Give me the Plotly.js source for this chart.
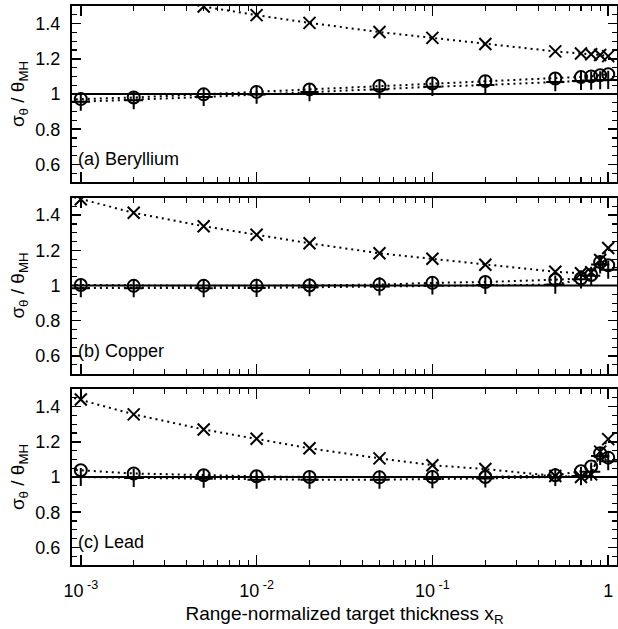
<!DOCTYPE html>
<html>
<head>
<meta charset="utf-8">
<script src="https://cdn.plot.ly/plotly-3.0.1.min.js"></script>
<style>html,body{margin:0;padding:0;background:#fff;}#chart{width:618px;height:629px;}</style>
</head>
<body>
<div id="chart"></div>
<script>
// x positions (range-normalized thickness)
const xR = [0.0005, 0.001, 0.002, 0.005, 0.01, 0.02, 0.05, 0.1, 0.2, 0.5, 0.7, 0.8, 0.9, 1.0];

// (a) Beryllium
const beX    = [1.72, 1.64, 1.56, 1.497, 1.448, 1.404, 1.352, 1.319, 1.284, 1.242, 1.230, 1.226, 1.222, 1.215];
const beO    = [0.955, 0.971, 0.980, 0.998, 1.012, 1.026, 1.045, 1.060, 1.073, 1.088, 1.096, 1.100, 1.107, 1.112];
const bePlus = [0.945, 0.956, 0.965, 0.983, 0.997, 1.011, 1.026, 1.041, 1.051, 1.068, 1.074, 1.076, 1.078, 1.080];

// (b) Copper
const cuX    = [1.57, 1.49, 1.413, 1.337, 1.288, 1.240, 1.183, 1.152, 1.118, 1.078, 1.070, 1.075, 1.145, 1.213];
const cuO    = [1.005, 1.003, 0.998, 0.998, 0.998, 1.000, 1.005, 1.015, 1.020, 1.033, 1.040, 1.060, 1.133, 1.115];
const cuPlus = [0.985, 0.985, 0.985, 0.985, 0.986, 0.990, 0.995, 1.000, 1.003, 1.005, 1.035, 1.055, 1.120, 1.090];

// (c) Lead
const pbX    = [1.52, 1.440, 1.356, 1.270, 1.217, 1.163, 1.106, 1.067, 1.045, 1.006, 1.000, 1.015, 1.144, 1.215];
const pbO    = [1.05, 1.038, 1.020, 1.010, 1.004, 1.000, 0.998, 1.000, 1.000, 1.010, 1.033, 1.060, 1.135, 1.110];
const pbPlus = [1.00, 1.000, 0.995, 0.990, 0.985, 0.985, 0.985, 0.988, 0.992, 1.000, 1.005, 1.030, 1.120, 1.090];

const panels = [
  {label: '(a) Beryllium', X: beX, O: beO, P: bePlus},
  {label: '(b) Copper',    X: cuX, O: cuO, P: cuPlus},
  {label: '(c) Lead',      X: pbX, O: pbO, P: pbPlus}
];

const xTickVals = [0.001, 0.01, 0.1, 1];
const xTickText = ['10<sup> -3</sup>', '10<sup> -2</sup>', '10<sup> -1</sup>', '1'];
const yTickVals = [0.6, 0.8, 1.0, 1.2, 1.4];
const yTickText = ['0.6', '0.8', '1', '1.2', '1.4'];

const W = 618, H = 629;
const mt = 6, mb = 64;
const plotH = H - mt - mb;
// pixel tops/bottoms of panels
const pix = [[6, 182], [197.5, 373.5], [389, 565]];
const font = 'Liberation Sans, Arial, sans-serif';

const traces = [];
const layout = {
  width: W, height: H,
  margin: {l: 72, r: 1, t: mt, b: mb},
  paper_bgcolor: '#fff', plot_bgcolor: '#fff',
  showlegend: false,
  font: {family: font, color: '#000', size: 17},
  shapes: [], annotations: []
};

panels.forEach((p, i) => {
  const n = i + 1;
  const xa = n === 1 ? 'x' : 'x' + n;
  const ya = n === 1 ? 'y' : 'y' + n;
  const line = {color: '#000', width: 2, dash: '2px,4px'};
  traces.push({x: xR, y: p.X, xaxis: xa, yaxis: ya, mode: 'lines+markers', line: line,
    marker: {symbol: 'x-thin-open', size: 12, color: '#000', line: {color: '#000', width: 2}}});
  traces.push({x: xR, y: p.P, xaxis: xa, yaxis: ya, mode: 'lines+markers', line: line,
    marker: {symbol: 'cross-thin-open', size: 13, color: '#000', line: {color: '#000', width: 2}}});
  traces.push({x: xR, y: p.O, xaxis: xa, yaxis: ya, mode: 'lines+markers', line: line,
    marker: {symbol: 'circle-open', size: 12, color: '#000', line: {color: '#000', width: 2}}});

  const top = pix[i][0], bot = pix[i][1];
  const d0 = (H - mb - bot) / plotH, d1 = (H - mb - top) / plotH;
  const xkey = n === 1 ? 'xaxis' : 'xaxis' + n;
  const ykey = n === 1 ? 'yaxis' : 'yaxis' + n;
  layout[xkey] = {
    type: 'log', range: [-3.05, 0.05], anchor: ya,
    tickvals: xTickVals, ticktext: xTickText,
    showticklabels: n === 3, ticks: 'inside', ticklen: 10, tickwidth: 1.5, tickcolor: '#000',
    minor: {ticks: 'inside', ticklen: 5, tickwidth: 1.2, tickcolor: '#000', dtick: 'D1', showgrid: false},
    showline: true, linecolor: '#000', linewidth: 2, mirror: 'ticks',
    showgrid: false, zeroline: false, ticklabelstandoff: 8,
    tickfont: {size: 18, family: font, color: '#000'},
    title: n === 3 ? {text: 'Range-normalized target thickness x<sub>R</sub>', font: {size: 19, family: font, color: '#000'}, standoff: 7} : {text: ''}
  };
  if (n !== 1) layout[xkey].matches = 'x';
  layout[ykey] = {
    domain: [d0, d1], range: [0.5, 1.5], anchor: xa,
    tickvals: yTickVals, ticktext: yTickText,
    ticks: 'inside', ticklen: 9, tickwidth: 1.5, tickcolor: '#000',
    minor: {ticks: 'inside', ticklen: 5, tickwidth: 1.2, tickcolor: '#000', dtick: 0.05, showgrid: false},
    showline: true, linecolor: '#000', linewidth: 2, mirror: 'ticks',
    showgrid: false, zeroline: false, ticklabelstandoff: 6,
    tickfont: {size: 18, family: font, color: '#000'},
    title: {text: 'σ<sub>θ</sub> / θ<sub>MH</sub>', font: {size: 19, family: font, color: '#000'}, standoff: 6}
  };
  layout.shapes.push({type: 'line', xref: xa + ' domain', yref: ya, x0: 0, x1: 1, y0: 1, y1: 1,
    line: {color: '#000', width: 2}});
  layout.annotations.push({text: p.label, xref: xa + ' domain', yref: ya, x: 0.008, y: 0.63,
    xanchor: 'left', yanchor: 'middle', showarrow: false, font: {size: 18, family: font, color: '#000'}});
});

Plotly.newPlot('chart', traces, layout, {displayModeBar: false, staticPlot: true});
</script>
</body>
</html>
